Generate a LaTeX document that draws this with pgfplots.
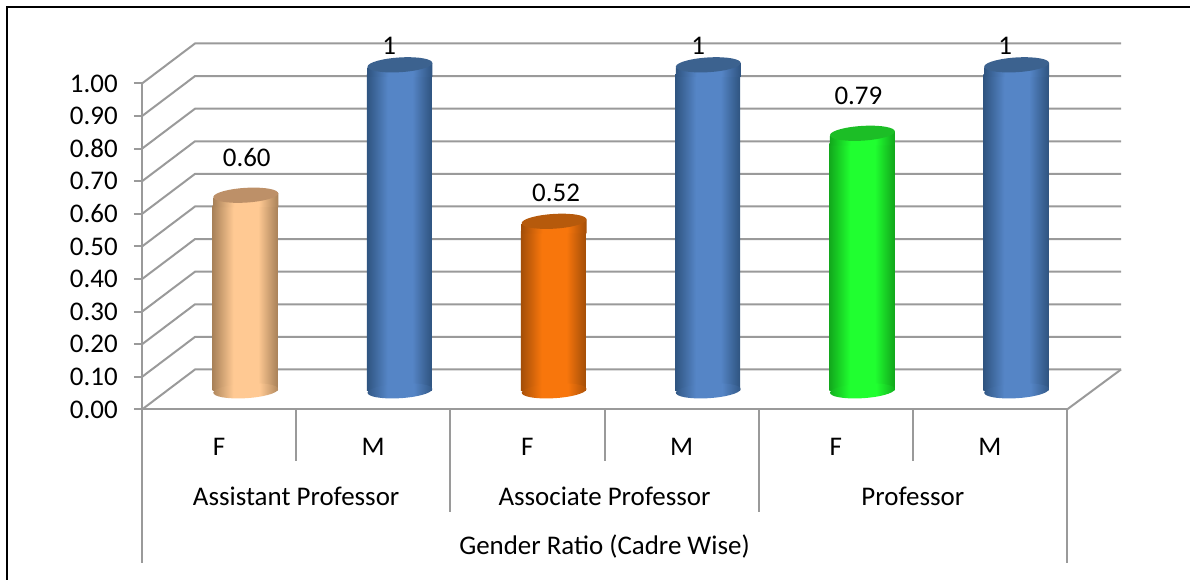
\documentclass[border=0pt]{standalone}
\usepackage{pgfplots}
\usepackage{pgfplotstable}
\usepackage{fontspec}
\setmainfont{Carlito}
\pgfplotsset{compat=1.18}

\definecolor{gridgray}{HTML}{9A9A9A}

% Cylinder colours: edge of the body, centre of the body, cap
\definecolor{peachE}{HTML}{A98259}\definecolor{peachC}{HTML}{FFC993}\definecolor{peachT}{HTML}{BD9068}
\definecolor{blueE}{HTML}{2F5480}\definecolor{blueC}{HTML}{5585C6}\definecolor{blueT}{HTML}{3C628F}
\definecolor{orangeE}{HTML}{A34E08}\definecolor{orangeC}{HTML}{F8760C}\definecolor{orangeT}{HTML}{B65A0C}
\definecolor{greenE}{HTML}{12A81C}\definecolor{greenC}{HTML}{20FF30}\definecolor{greenT}{HTML}{1CBE26}

% Slightly tilted ellipse seen from above, as four Bezier arcs
\newcommand{\capellipse}{%
  (32,3) .. controls (29.24,6.87) and (12.67,8.66) .. (-5,7)
         .. controls (-22.67,5.34) and (-34.76,0.87) .. (-32,-3)
         .. controls (-29.24,-6.87) and (-12.67,-8.66) .. (5,-7)
         .. controls (22.67,-5.34) and (34.76,-0.87) .. (32,3) -- cycle}

% One horizontal shading and two plot marks (base ellipse, cap) per colour
\newcommand{\declarecylinder}[1]{%
  \pgfdeclarehorizontalshading{cyl#1}{100bp}{%
    color(0bp)=(#1E); color(25bp)=(#1E); color(29bp)=(#1E!75!#1C);
    color(41bp)=(#1C); color(60bp)=(#1C);
    color(71bp)=(#1E!75!#1C); color(75bp)=(#1E); color(100bp)=(#1E)}%
  \pgfdeclareplotmark{base#1}{%
    \path[draw=none,shade,shading=cyl#1,x=0.75pt,y=0.75pt] \capellipse;}%
  \pgfdeclareplotmark{top#1}{%
    \path[draw=none,shade,shading=cyl#1,x=0.75pt,y=0.75pt]
      (-32.5,-2.5) -- (32.5,2) -- (32.5,-12) -- (-32.5,-12) -- cycle;
    \path[draw=none,fill=#1T,x=0.75pt,y=0.75pt] \capellipse;}%
}
\declarecylinder{peach}
\declarecylinder{blue}
\declarecylinder{orange}
\declarecylinder{green}

% x: category position; v: value; text: data label; lx, ly: label offset from the cap in pt
\pgfplotstableread{
x v    text lx    ly
0 0.60 0.60 0.75  28.5
}\tabA
\pgfplotstableread{
x v    text lx    ly
1 1.00 1    -8    14
}\tabB
\pgfplotstableread{
x v    text lx    ly
2 0.52 0.52 1.5   21.4
}\tabC
\pgfplotstableread{
x v    text lx    ly
3 1.00 1    -7.5  14
}\tabD
\pgfplotstableread{
x v    text lx    ly
4 0.79 0.79 -3    28
}\tabE
\pgfplotstableread{
x v    text lx    ly
5 1.00 1    -8.5  14
}\tabF

\newcommand{\mylabelfont}{\fontsize{20.2}{24}\selectfont}

% Draws one cylinder: base ellipse, body, cap, then the value label
\newcommand{\cylinder}[2]{%
  \addplot[only marks,mark=base#2,mark options={draw=none},xshift=20pt,yshift=14pt] table[x=x,y expr=0] {#1};
  \addplot[ybar,bar width=48.75pt,bar shift=-0.5pt,draw=none,shade,shading=cyl#2,
           xshift=20pt,yshift=14pt] table[x=x,y expr=\thisrow{v}-0.03] {#1};
  \addplot[only marks,mark=top#2,mark options={draw=none},xshift=20pt,yshift=14pt] table[x=x,y=v] {#1};
  \addplot[draw=none,mark=none,xshift=20pt,yshift=14pt,
           point meta=explicit symbolic,nodes near coords,
           every node near coord/.append style={anchor=center,inner sep=0pt,
             text=black,font=\mylabelfont}]
    table[x expr=\thisrow{x}+\thisrow{lx}/115.625,
          y expr=\thisrow{v}+\thisrow{ly}/244.5,meta=text] {#1};
}

\begin{document}
\begin{tikzpicture}
  \path[use as bounding box] (0,0) rectangle (892.5pt,435pt);
  \begin{axis}[
    at={(106.5pt,127.875pt)},anchor=south west,
    scale only axis,width=693.75pt,height=244.5pt,
    xmin=-0.5,xmax=5.5,ymin=0,ymax=1,clip=false,
    axis x line*=bottom,axis y line*=left,
    axis line style={-,draw=gridgray,line width=1.5pt},
    xtick={0,1,2,3,4,5},xticklabels={F,M,F,M,F,M},
    x tick style={draw=none},major x tick style={draw=none},
    xticklabel style={anchor=center,yshift=-22pt,font=\mylabelfont,inner sep=0pt},
    ytick={0,0.1,...,1.0},
    y tick style={draw=gridgray,line width=1.5pt},
    tick align=outside,major tick length=6pt,
    yticklabel style={font=\mylabelfont,inner sep=0pt,xshift=-12pt},
    /pgf/number format/assume math mode=true,
    /pgf/number format/fixed,/pgf/number format/fixed zerofill,/pgf/number format/precision=2,
  ]
    % Side wall and back wall grid lines
    \pgfplotsinvokeforeach{0,0.1,0.2,0.3,0.4,0.5,0.6,0.7,0.8,0.9,1}{
      \draw[gridgray,line width=1.5pt] (axis cs:-0.5,#1) -- ++(39.75pt,30pt) -- ++(694.5pt,0pt);
    }
    % Right edge of the floor
    \draw[gridgray,line width=1.5pt] (axis cs:5.5,0) -- ++(40.5pt,30pt);
    % Multi-level category separators
    \draw[gridgray,line width=1.5pt]
      (axis cs:-0.5,0) -- ++(0pt,-115.5pt)
      (axis cs:5.5,0)  -- ++(0pt,-115.5pt)
      (axis cs:0.5,0) -- ++(0pt,-38.5pt)
      (axis cs:2.5,0) -- ++(0pt,-38.5pt)
      (axis cs:4.5,0) -- ++(0pt,-38.5pt)
      (axis cs:1.5,0) -- ++(0pt,-77pt)
      (axis cs:3.5,0) -- ++(0pt,-77pt);

    \cylinder{\tabA}{peach}
    \cylinder{\tabB}{blue}
    \cylinder{\tabC}{orange}
    \cylinder{\tabD}{blue}
    \cylinder{\tabE}{green}
    \cylinder{\tabF}{blue}

    % Group captions under the F/M labels
    \node[font=\mylabelfont,inner sep=0pt] at (axis cs:0.5,0) [yshift=-64.8pt] {Assistant Professor};
    \node[font=\mylabelfont,inner sep=0pt] at (axis cs:2.5,0) [yshift=-64.8pt] {Associate Professor};
    \node[font=\mylabelfont,inner sep=0pt] at (axis cs:4.5,0) [yshift=-64.8pt] {Professor};
    \node[font=\mylabelfont,inner sep=0pt] at (axis cs:2.5,0) [yshift=-103pt] {Gender Ratio (Cadre Wise)};
  \end{axis}
  % Frame along the top and left sides
  \draw[black,line width=1.5pt] (4.9pt,0pt) -- (4.9pt,430.1pt) -- (892.5pt,430.1pt);
\end{tikzpicture}
\end{document}
